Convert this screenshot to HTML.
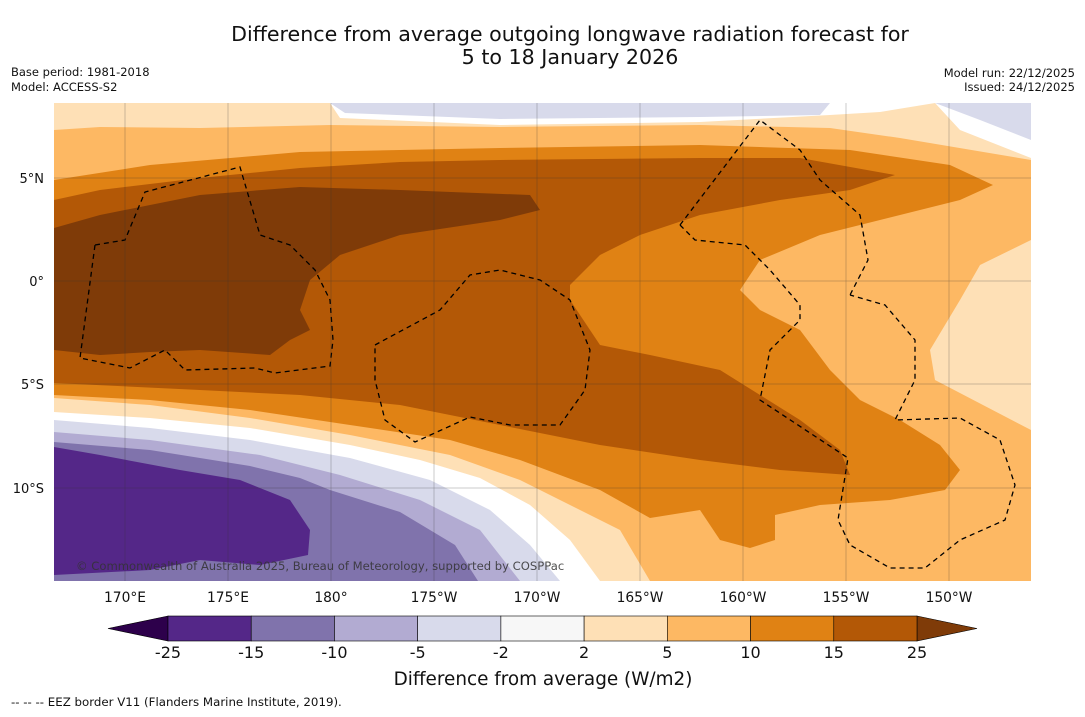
<!DOCTYPE html>
<html><head><meta charset="utf-8"><style>
body{margin:0;background:#fff;width:1085px;height:713px;overflow:hidden;font-family:"DejaVu Sans","Liberation Sans",sans-serif;}
</style></head><body>
<svg width="1085" height="713" viewBox="0 0 1085 713" xmlns="http://www.w3.org/2000/svg" font-family="DejaVu Sans, Liberation Sans, sans-serif">
<text x="570" y="41" text-anchor="middle" font-size="20.6" fill="#111">Difference from average outgoing longwave radiation forecast for</text>
<text x="570" y="64" text-anchor="middle" font-size="20.6" fill="#111">5 to 18 January 2026</text>
<text x="11" y="76" font-size="11.5" fill="#111">Base period: 1981-2018</text>
<text x="11" y="91" font-size="11.5" fill="#111">Model: ACCESS-S2</text>
<text x="1075" y="77" text-anchor="end" font-size="11.5" fill="#111">Model run: 22/12/2025</text>
<text x="1075" y="91" text-anchor="end" font-size="11.5" fill="#111">Issued: 24/12/2025</text>
<defs><clipPath id="mc"><rect x="54" y="103" width="977" height="478"/></clipPath></defs>
<g clip-path="url(#mc)">
<rect x="54" y="103" width="977" height="478" fill="#fee0b6"/>
<path d="M54,103L330,103L340,118L500,125L700,122L830,115L880,112L935,103L1031,103L1031,158L960,130L935,103Z" fill="#fff"/>
<path d="M330,103L830,103L820,115L700,117L500,119L345,113Z" fill="#d8daeb"/>
<path d="M935,103L1031,103L1031,140L980,120Z" fill="#d8daeb"/>
<path d="M54,412L150,418L250,428L350,445L420,460L480,478L530,505L570,540L600,581L54,581Z" fill="#fff"/>
<path d="M54,420L150,428L250,440L350,458L430,480L490,510L530,545L560,581L54,581Z" fill="#d8daeb"/>
<path d="M54,432L150,440L260,455L340,475L420,500L480,530L520,581L54,581Z" fill="#b2abd2"/>
<path d="M54,442L150,450L250,466L300,478L330,490L400,512L455,545L478,581L54,581Z" fill="#8073ac"/>
<path d="M54,447L100,455L180,470L240,480L290,500L310,530L308,555L260,565L200,560L150,570L54,575Z" fill="#542788"/>
<path d="M54,130L100,127L200,128L330,125L500,127L700,125L830,128L900,138L1031,160L1031,240L980,265L960,300L930,350L935,380L1031,430L1031,581L650,581L620,530L580,510L520,480L450,455L350,435L250,418L150,405L54,398Z" fill="#fdb863"/>
<path d="M54,180L150,165L300,152L500,148L700,145L850,150L950,165L993,185L960,200L900,215L820,235L760,260L740,290L760,310L800,330L830,370L860,400L900,420L940,445L960,470L945,490L890,500L820,505L775,515L775,540L750,548L720,540L700,510L650,518L600,490L520,460L450,440L350,425L250,410L150,400L54,395Z" fill="#e08214"/>
<path d="M54,200L100,190L200,178L300,168L400,162L500,160L700,158L800,158L895,175L850,190L780,200L700,215L640,235L600,255L570,285L570,300L600,345L650,355L720,370L760,395L800,420L840,450L850,475L780,470L700,460L600,445L500,425L400,405L300,395L200,390L54,383Z" fill="#b35806"/>
<path d="M54,228L100,215L200,195L300,187L400,190L530,195L540,210L500,220L400,235L340,255L310,280L300,310L310,330L290,340L270,355L200,350L150,352L100,355L54,350Z" fill="#7f3b08"/>
<g fill="none" stroke="#000" stroke-width="1.3" stroke-dasharray="5,4">
<path d="M95,245L125,240L145,192L240,167L260,235L290,245L315,270L330,300L333,340L330,366L275,373L255,368L185,370L165,350L130,368L80,358Z"/>
<path d="M375,345L440,310L470,275L500,270L540,280L570,300L590,350L585,390L560,425L510,425L470,417L415,442L385,420L375,380Z"/>
<path d="M680,225L760,120L800,150L820,180L860,215L868,260L850,295M680,225L695,240L745,245L770,270L800,305L800,320L770,350L760,400L848,458L838,520L850,545L890,568L925,568L960,540L1005,520L1015,485L1000,440L960,418L895,420L915,380L915,340L885,305L850,295"/>
</g>
<g stroke="#333" stroke-width="0.5" opacity="0.5">
<path d="M125,103V581M228,103V581M331,103V581M434,103V581M537,103V581M640,103V581M743,103V581M846,103V581M949,103V581M54,178H1031M54,281H1031M54,384H1031M54,488H1031"/>
</g>
<text x="76" y="570" font-size="11.6" fill="#333" opacity="0.85">© Commonwealth of Australia 2025, Bureau of Meteorology, supported by COSPPac</text>
</g>
<g font-size="13" fill="#111">
<text x="44" y="183" text-anchor="end">5°N</text><text x="44" y="286" text-anchor="end">0°</text>
<text x="44" y="389" text-anchor="end">5°S</text><text x="44" y="493" text-anchor="end">10°S</text>
</g>
<g id="lonlabels" font-size="13.8" fill="#111" text-anchor="middle"></g>
<g id="cbar"></g>
<text x="543" y="685" text-anchor="middle" font-size="18.4" fill="#111">Difference from average (W/m2)</text>
<text x="11" y="706" font-size="11.8" fill="#111">--  --  -- EEZ border V11 (Flanders Marine Institute, 2019).</text>
</svg>
<script>
const lonLabels=["170°E","175°E","180°","175°W","170°W","165°W","160°W","155°W","150°W"];
const cbarTicks=["-25","-15","-10","-5","-2","2","5","10","15","25"];
const cbarColors=["#542788","#8073ac","#b2abd2","#d8daeb","#f7f7f7","#fee0b6","#fdb863","#e08214","#b35806"];
const NS="http://www.w3.org/2000/svg";
const lg=document.getElementById('lonlabels');
lonLabels.forEach((t,i)=>{const e=document.createElementNS(NS,'text');


e.setAttribute('x',125+i*103);e.setAttribute('y',602);e.textContent=t;lg.appendChild(e);});
const cb=document.getElementById('cbar');const x0=168,x1=917,w=(x1-x0)/cbarColors.length;
const tl=document.createElementNS(NS,'path');


tl.setAttribute('d',`M${x0},616L108,628.5L${x0},641Z`);tl.setAttribute('fill','#2d004b');tl.setAttribute('stroke','#000');tl.setAttribute('stroke-width','0.6');cb.appendChild(tl);
const tr=document.createElementNS(NS,'path');


tr.setAttribute('d',`M${x1},616L977,628.5L${x1},641Z`);tr.setAttribute('fill','#7f3b08');tr.setAttribute('stroke','#000');tr.setAttribute('stroke-width','0.6');cb.appendChild(tr);
cbarColors.forEach((c,i)=>{const r=document.createElementNS(NS,'rect');


r.setAttribute('x',x0+i*w);r.setAttribute('y',616);r.setAttribute('width',w);r.setAttribute('height',25);r.setAttribute('fill',c);r.setAttribute('stroke','#000');r.setAttribute('stroke-width','0.6');cb.appendChild(r);});
cbarTicks.forEach((t,i)=>{const e=document.createElementNS(NS,'text');


e.setAttribute('x',x0+i*w);e.setAttribute('y',658);e.setAttribute('text-anchor','middle');e.setAttribute('font-size','16');e.setAttribute('fill','#111');e.textContent=t;cb.appendChild(e);});
</script>
</body></html>
